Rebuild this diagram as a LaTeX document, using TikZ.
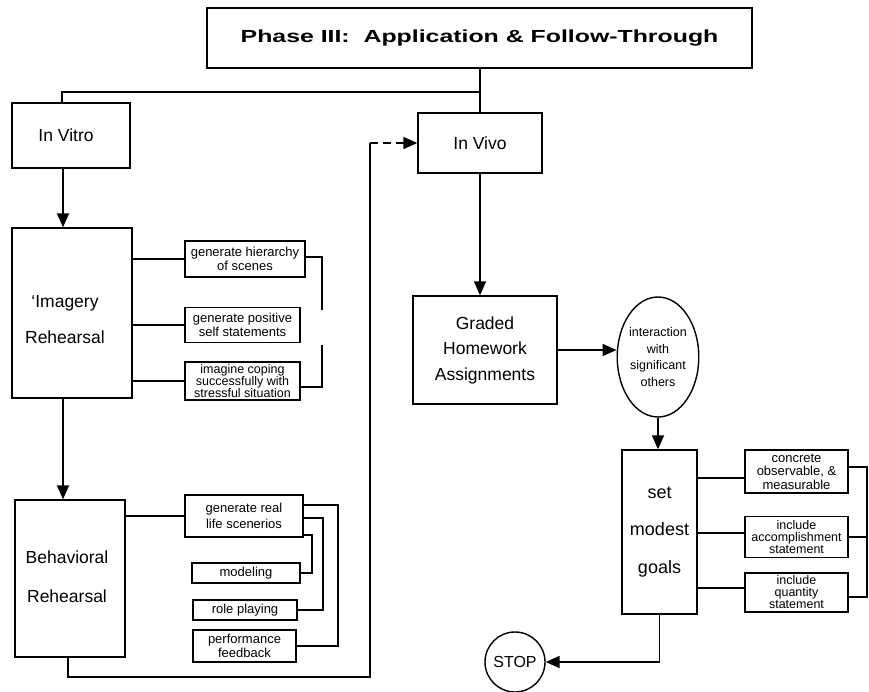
\documentclass[tikz,border=0pt]{standalone}
\usepackage{fontspec}
\setmainfont{Liberation Sans}
\newfontfamily\headfont[FakeStretch=1.42]{Liberation Sans}
\usetikzlibrary{arrows.meta,shapes.geometric}
\begin{document}
\begin{tikzpicture}[x=1pt,y=-1pt,
  box/.style={draw,line width=1.4pt,inner sep=0pt,align=center},
  big/.style={font=\fontsize{17.5}{20}\selectfont},
  small/.style={font=\fontsize{13}{14}\selectfont},
  link/.style={line width=1.8pt},
  arr/.style={link,-{Triangle[length=14pt,width=12pt]}},
]
\fill[white] (0,0) rectangle (869,692);
\useasboundingbox (0,0) rectangle (869,692);

% header
\node[box,minimum width=545pt,minimum height=60pt,
      font=\headfont\bfseries\fontsize{17.5}{20}\selectfont] (title) at (479.5,38)
      {Phase III:\ \ Application \& Follow-Through};

% left column: rehearsal in vitro
\node[box,minimum width=118pt,minimum height=65pt] (vitro) at (71,135.5) {};
\node[big] (vitrotxt) at (66,135.5) {In Vitro};
\node[box,minimum width=120pt,minimum height=170pt] (imag) at (72,313) {};
\node[align=center,font=\fontsize{17.5}{36}\selectfont] (imagtxt) at (65,320) {`Imagery\\Rehearsal};
\node[box,small,minimum width=120pt,minimum height=36pt] (ih1) at (245,259) {generate hierarchy\\of scenes};
\node[box,small,minimum width=115pt,minimum height=35pt] (ih2) at (242.5,325) {generate positive\\self statements};
\node[box,font=\fontsize{12.5}{12}\selectfont,minimum width=115pt,minimum height=38pt] (ih3) at (242.5,381) {imagine coping\\successfully with\\stressful situation};

\node[box,minimum width=110pt,minimum height=157pt] (behav) at (70,578.5) {};
\node[align=center,font=\fontsize{17.5}{39}\selectfont] (behavtxt) at (67,577) {Behavioral\\Rehearsal};
\node[box,font=\fontsize{13}{16}\selectfont,minimum width=118pt,minimum height=42pt] (b1) at (244,516) {generate real\\life scenerios};
\node[box,small,minimum width=108pt,minimum height=20pt] (b2) at (246,573) {modeling};
\node[box,small,minimum width=104pt,minimum height=20pt] (b3) at (245,610) {role playing};
\node[box,small,minimum width=103pt,minimum height=32pt] (b4) at (244.5,646) {performance\\feedback};

% right column: in vivo
\node[box,big,minimum width=124pt,minimum height=60pt] (vivo) at (480,143) {In Vivo};
\node[box,font=\fontsize{17.5}{25.5}\selectfont,minimum width=144pt,minimum height=108pt] (graded) at (485,350) {Graded\\Homework\\Assignments};
\node[draw,line width=1.4pt,ellipse,inner sep=0pt,align=center,minimum width=80pt,minimum height=120pt,
      font=\fontsize{12.5}{16.5}\selectfont] (others) at (658,357) {interaction\\with\\significant\\others};
\node[box,font=\fontsize{18}{37.5}\selectfont,minimum width=75pt,minimum height=164pt] (goals) at (659.5,532) {set\\modest\\goals};
\node[box,font=\fontsize{13}{13.5}\selectfont,minimum width=103pt,minimum height=43pt] (g1) at (796.5,471.5) {concrete\\observable, \&\\measurable};
\node[box,font=\fontsize{12.5}{12}\selectfont,minimum width=103pt,minimum height=41pt] (g2) at (796.5,537) {include\\accomplishment\\statement};
\node[box,font=\fontsize{12.5}{12}\selectfont,minimum width=103pt,minimum height=39pt] (g3) at (796.5,592.5) {include\\quantity\\statement};
\node[draw,line width=1.4pt,circle,inner sep=0pt,minimum size=60pt,font=\fontsize{16}{18}\selectfont] (stop) at (515,662) {STOP};

% routing points
\coordinate (split) at (480,92);
\coordinate (gapTop) at (322,310);
\coordinate (gapBot) at (322,345);
\coordinate (bA) at (312,0);
\coordinate (bB) at (323,0);
\coordinate (bC) at (338,0);
\coordinate (loop) at (370,677);
\coordinate (gbr) at (867,0);
\coordinate (gy1) at (0,478);
\coordinate (gy2) at (0,533);
\coordinate (gy3) at (0,588);
\coordinate (g3r) at ([yshift=-4.5pt]g3.east);

% header branches
\draw[link] (vivo.north |- title.south) -- (vivo.north);
\draw[link] (split) -| ([xshift=-9pt]vitro.north);

% in vitro chain
\draw[arr] ([xshift=-8pt]vitro.south) -- ([xshift=-8pt]vitro.south |- imag.north);
\draw[arr] ([xshift=-9pt]imag.south) -- ([xshift=-9pt]imag.south |- behav.north);

\draw[link] (imag.east |- ih1.west) -- (ih1.west);
\draw[link] (imag.east |- ih2.west) -- (ih2.west);
\draw[link] (imag.east |- ih3.west) -- (ih3.west);
\draw[link] ([yshift=2pt]ih1.east) -| (gapTop);
\draw[link] (gapBot) |- ([yshift=-6pt]ih3.east);

\draw[link] (behav.east |- b1.west) -- (b1.west);
\draw[link] ([yshift=11pt]b1.east) -| (bC |- b4.east) -- (b4.east);
\draw[link] ([yshift=-2pt]b1.east) -| (bB |- b3.east) -- (b3.east);
\draw[link] ([yshift=-19pt]b1.east) -| (bA |- b2.east) -- (b2.east);

% transfer to in vivo
\draw[link] ([xshift=-2pt]behav.south) |- (loop) -- (loop |- vivo.west);
\draw[arr,dash pattern=on 8pt off 5pt] (loop |- vivo.west) -- (vivo.west);

% in vivo chain
\draw[arr] (vivo.south) -- (vivo.south |- graded.north);
\draw[arr] (graded.east) -- (others.west |- graded.east);
\draw[arr] (others.south) -- (others.south |- goals.north);

\draw[link] (goals.east |- gy1) -- (g1.west |- gy1);
\draw[link] (goals.east |- gy2) -- (g2.west |- gy2);
\draw[link] (goals.east |- gy3) -- (g3.west |- gy3);
\draw[link] ([yshift=4.5pt]g1.east) -| (gbr |- g3r) -- (g3r);
\draw[link] (g2.east) -- (gbr |- g2.east);

\draw[arr] (goals.south) |- (stop.east);
\end{tikzpicture}
\end{document}
